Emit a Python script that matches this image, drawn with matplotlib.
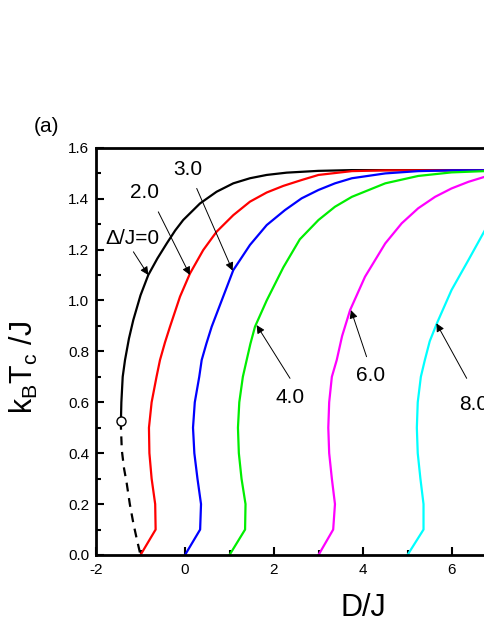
import numpy as np
import matplotlib
matplotlib.use('Agg')
import matplotlib.pyplot as plt
from matplotlib.ticker import MultipleLocator, FormatStrFormatter

plt.rcParams['font.family'] = ['Liberation Sans', 'DejaVu Sans']
plt.rcParams['mathtext.fontset'] = 'custom'
plt.rcParams['mathtext.rm'] = 'Liberation Sans'
plt.rcParams['mathtext.default'] = 'regular'
plt.rcParams['axes.unicode_minus'] = False

# data: (D/J, kBTc/J) for each Delta/J
d0_D = [-1.44, -1.43, -1.40, -1.348, -1.26, -1.162, -1.0, -0.825, -0.62, -0.41, -0.22, -0.04, 0.337, 0.71, 1.085, 1.46, 1.836, 2.285, 2.996, 3.75, 10.0]
d0_T = [0.527, 0.6, 0.7, 0.766, 0.85, 0.923, 1.02, 1.10, 1.165, 1.224, 1.275, 1.316, 1.381, 1.427, 1.46, 1.48, 1.493, 1.502, 1.509, 1.512, 1.512]

d0_dash_D = [-1.44, -1.44, -1.42, -1.37, -1.31, -1.24, -1.16, -1.08, -1.0]
d0_dash_T = [0.527, 0.504, 0.412, 0.34, 0.282, 0.2, 0.124, 0.06, 0.0]

d2_D = [-1.0, -0.66, -0.67, -0.75, -0.80, -0.81, -0.75, -0.64, -0.562, -0.45, -0.337, -0.112, 0.112, 0.41, 0.71, 1.085, 1.46, 1.836, 2.21, 2.62, 3.0, 3.75, 4.5, 10.0]
d2_T = [0.0, 0.1, 0.2, 0.3, 0.4, 0.5, 0.6, 0.7, 0.766, 0.835, 0.897, 1.015, 1.106, 1.198, 1.27, 1.335, 1.388, 1.424, 1.45, 1.473, 1.493, 1.508, 1.511, 1.512]

d3_D = [0.0, 0.34, 0.36, 0.28, 0.21, 0.18, 0.22, 0.32, 0.375, 0.48, 0.6, 0.825, 1.085, 1.46, 1.836, 2.247, 2.62, 3.0, 3.37, 3.75, 4.5, 5.24, 6.0, 10.0]
d3_T = [0.0, 0.1, 0.2, 0.3, 0.4, 0.5, 0.6, 0.7, 0.766, 0.83, 0.897, 1.0, 1.119, 1.218, 1.296, 1.355, 1.401, 1.434, 1.46, 1.48, 1.499, 1.508, 1.511, 1.512]

d4_D = [1.0, 1.35, 1.36, 1.27, 1.21, 1.19, 1.22, 1.30, 1.386, 1.47, 1.573, 1.836, 2.21, 2.58, 3.0, 3.37, 3.75, 4.5, 5.24, 5.99, 6.74, 10.0]
d4_T = [0.0, 0.1, 0.2, 0.3, 0.4, 0.5, 0.6, 0.7, 0.766, 0.83, 0.897, 1.0, 1.13, 1.24, 1.316, 1.368, 1.407, 1.46, 1.489, 1.503, 1.508, 1.512]

d6_D = [3.0, 3.33, 3.37, 3.30, 3.24, 3.22, 3.24, 3.30, 3.41, 3.53, 3.71, 4.045, 4.5, 4.87, 5.24, 5.62, 5.99, 6.37, 6.74, 7.5, 8.3, 10.0]
d6_T = [0.0, 0.1, 0.2, 0.3, 0.4, 0.5, 0.6, 0.7, 0.766, 0.86, 0.962, 1.093, 1.224, 1.303, 1.362, 1.407, 1.44, 1.466, 1.486, 1.502, 1.509, 1.512]

d8_D = [5.0, 5.36, 5.36, 5.29, 5.23, 5.21, 5.23, 5.30, 5.39, 5.5, 5.66, 5.99, 6.37, 6.74, 7.2, 7.7, 8.3, 9.0, 10.0]
d8_T = [0.0, 0.1, 0.2, 0.3, 0.4, 0.5, 0.6, 0.7, 0.766, 0.84, 0.91, 1.041, 1.159, 1.276, 1.37, 1.44, 1.48, 1.503, 1.512]

tcp_D, tcp_T = -1.44, 0.527

xticks = [-2, 0, 2, 4, 6]
labels = ['\u0394/J=0', '2.0', '3.0', '4.0', '6.0', '8.0']
label_xy = [(-1.17, 1.243), (-0.92, 1.424), (0.067, 1.514), (2.36, 0.617), (4.18, 0.707), (6.49, 0.593)]
arrow_tail = [(-1.16, 1.191), (-0.60, 1.348), (0.263, 1.44), (2.36, 0.694), (4.08, 0.779), (6.33, 0.694)]
arrow_tip = [(-0.825, 1.10), (0.11, 1.10), (1.07, 1.117), (1.61, 0.903), (3.73, 0.962), (5.65, 0.91)]

fig = plt.figure(figsize=(4.85, 6.28), dpi=100)
ax = fig.add_axes([96/485, 73/628, 534/485, 407.3/628])

lw = 1.6
ax.plot(d0_D, d0_T, color='black', lw=lw)
ax.plot(d0_dash_D, d0_dash_T, color='black', lw=lw, ls=(0, (4, 3)))
ax.plot(d2_D, d2_T, color='#ff0000', lw=lw)
ax.plot(d3_D, d3_T, color='#0000ff', lw=lw)
ax.plot(d4_D, d4_T, color='#00ee00', lw=lw)
ax.plot(d6_D, d6_T, color='#ff00ff', lw=lw)
ax.plot(d8_D, d8_T, color='#00ffff', lw=lw)
ax.plot([tcp_D], [tcp_T], 'o', ms=6.5, mfc='white', mec='black', mew=1.0, zorder=5)

for lab, xy in zip(labels, label_xy):
    ax.text(xy[0], xy[1], lab, fontsize=15, ha='center', va='center')
for tail, tip in zip(arrow_tail, arrow_tip):
    ax.annotate('', xy=tip, xytext=tail,
                arrowprops=dict(arrowstyle='-|>', lw=0.7, color='black',
                                mutation_scale=12, shrinkA=0, shrinkB=0))

ax.set_xlim(-2, 10)
ax.set_ylim(0, 1.6)
ax.set_xticks(xticks)
ax.xaxis.set_minor_locator(MultipleLocator(1))
ax.yaxis.set_major_locator(MultipleLocator(0.2))
ax.yaxis.set_minor_locator(MultipleLocator(0.1))
ax.yaxis.set_major_formatter(FormatStrFormatter('%.1f'))
ax.tick_params(which='both', direction='in', top=False, right=False, width=1.5, labelsize=11)
ax.tick_params(which='major', length=6)
ax.tick_params(which='minor', length=3.5)
ax.tick_params(axis='x', pad=6)
ax.tick_params(axis='y', pad=5)
for s in ax.spines.values():
    s.set_linewidth(2.0)

fig.text(24/485, 1 - 368/628, '$k_BT_c$ /J', fontsize=22, rotation=90, ha='center', va='center')
fig.text(363/485, 1 - 608/628, 'D/J', fontsize=22, ha='center', va='center')
fig.text(47/485, 1 - 127/628, '(a)', fontsize=15, ha='center', va='center')

fig.savefig('out.png', dpi=100)
